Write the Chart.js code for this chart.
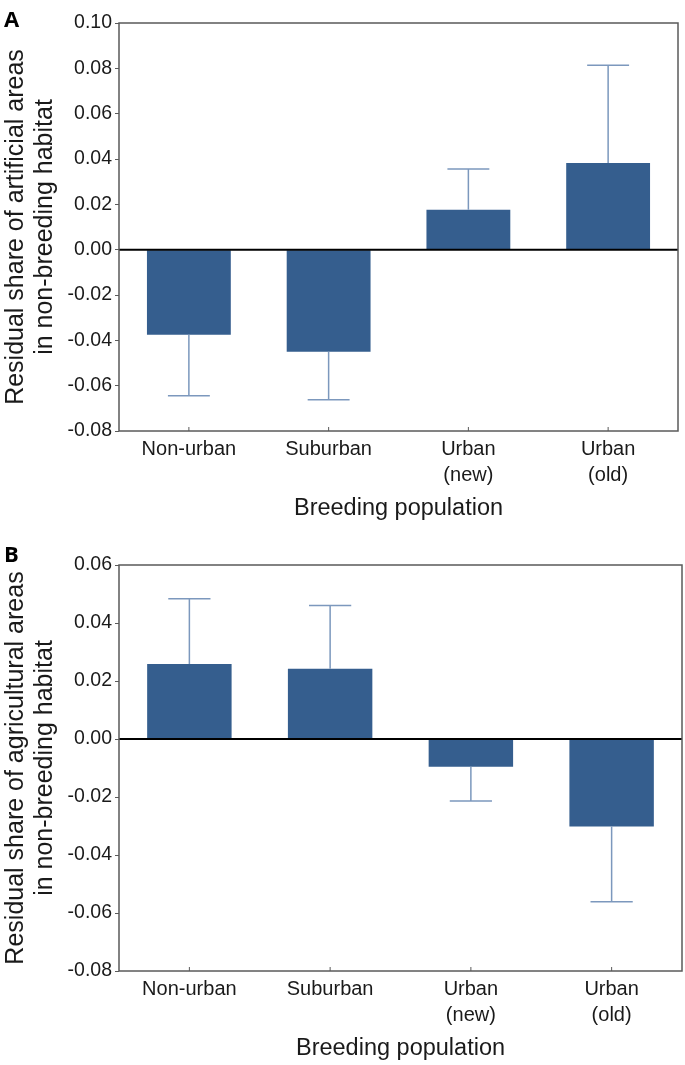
<!DOCTYPE html>
<html>
<head>
<meta charset="utf-8">
<script src="https://cdn.jsdelivr.net/npm/chart.js@4.4.1/dist/chart.umd.min.js"></script>
<style>
    html, body { margin: 0; padding: 0; background: #fff; }
    body { width: 685px; height: 1065px; position: relative; overflow: hidden; }
    .painel { position: absolute; left: 0; width: 685px; }
    .letra {
        position: absolute; left: 4px; line-height: 22px;
        font: bold 22px "Open Sans", "Liberation Sans", sans-serif; color: #000;
    }
</style>
</head>
<body>
<div class="painel" style="top:0"><canvas id="chartA" width="685" height="530"></canvas></div>
<div class="painel" style="top:530px"><canvas id="chartB" width="685" height="535"></canvas></div>
<div class="letra" style="top:3px">A</div>
<div class="letra" style="top:538px">B</div>

<script>
// Categories (multi-line labels as arrays)
const categorias = ['Non-urban', 'Suburban', ['Urban', '(new)'], ['Urban', '(old)']];

// Panel A: artificial areas
const valoresA = [-0.0375, -0.0450, 0.0176, 0.0382];
const errosA = [-0.0644, -0.0662, 0.0356, 0.0814];
const ticksA = [-0.08, -0.06, -0.04, -0.02, 0.00, 0.02, 0.04, 0.06, 0.08, 0.10];

// Panel B: agricultural areas
const valoresB = [0.0259, 0.0242, -0.0096, -0.0302];
const errosB = [0.0484, 0.0460, -0.0214, -0.0561];
const ticksB = [-0.08, -0.06, -0.04, -0.02, 0.00, 0.02, 0.04, 0.06];

const FONTE = '"Liberation Sans", Arial, Helvetica, sans-serif';
const COR_BARRA = '#355e8e';
const COR_ERRO = '#7c98bd';
const COR_EIXO = '#5a5a5a';

// Error bars, zero line, frame and inner x ticks
function criarPluginExtras(erros) {
    return {
        id: 'extras',
        afterDatasetsDraw(chart) {
            const { ctx, chartArea, scales } = chart;
            const meta = chart.getDatasetMeta(0);
            ctx.save();

            // Error bars (one-sided, away from zero)
            ctx.strokeStyle = COR_ERRO;
            ctx.lineWidth = 1.5;
            meta.data.forEach((barra, i) => {
                const yFim = scales.y.getPixelForValue(erros[i]);
                const meio = barra.width * 0.25;
                ctx.beginPath();
                ctx.moveTo(barra.x, barra.y);
                ctx.lineTo(barra.x, yFim);
                ctx.moveTo(barra.x - meio, yFim);
                ctx.lineTo(barra.x + meio, yFim);
                ctx.stroke();
            });

            // Zero line
            const y0 = scales.y.getPixelForValue(0);
            ctx.strokeStyle = '#000';
            ctx.lineWidth = 2;
            ctx.beginPath();
            ctx.moveTo(chartArea.left, y0);
            ctx.lineTo(chartArea.right, y0);
            ctx.stroke();

            // Frame
            ctx.strokeStyle = COR_EIXO;
            ctx.lineWidth = 1.5;
            ctx.strokeRect(chartArea.left, chartArea.top,
                chartArea.right - chartArea.left, chartArea.bottom - chartArea.top);

            // Inner ticks on x axis
            ctx.lineWidth = 1;
            scales.x.ticks.forEach((t, i) => {
                const x = scales.x.getPixelForTick(i);
                ctx.beginPath();
                ctx.moveTo(x, chartArea.bottom);
                ctx.lineTo(x, chartArea.bottom - 4);
                ctx.stroke();
            });

            ctx.restore();
        }
    };
}

// Build one panel
function criarPainel(id, valores, erros, ticks, tituloY, padding) {
    const ctx = document.getElementById(id);
    return new Chart(ctx, {
        type: 'bar',
        data: {
            labels: categorias,
            datasets: [{
                data: valores,
                backgroundColor: COR_BARRA,
                borderWidth: 0,
                categoryPercentage: 1,
                barPercentage: 0.6
            }]
        },
        options: {
            responsive: false,
            animation: false,
            layout: { padding: padding },
            plugins: {
                legend: { display: false },
                tooltip: { enabled: false }
            },
            scales: {
                x: {
                    offset: true,
                    afterFit: s => { s.height = 92; },
                    grid: { display: false, drawTicks: false },
                    border: { display: false },
                    ticks: {
                        padding: 5,
                        autoSkip: false,
                        maxRotation: 0,
                        color: '#1a1a1a',
                        font: { family: FONTE, size: 20, lineHeight: 1.3 }
                    },
                    title: {
                        display: true,
                        text: 'Breeding population',
                        color: '#1a1a1a',
                        font: { family: FONTE, size: 23.5, lineHeight: 1.2 },
                        padding: { top: 0, bottom: 0 }
                    }
                },
                y: {
                    min: ticks[0],
                    max: ticks[ticks.length - 1],
                    afterBuildTicks: s => { s.ticks = ticks.map(v => ({ value: v })); },
                    afterFit: s => { s.width = 119; },
                    grid: { drawOnChartArea: false, tickLength: 4, color: COR_EIXO, lineWidth: 1 },
                    border: { display: false },
                    ticks: {
                        padding: 3,
                        color: '#1a1a1a',
                        font: { family: FONTE, size: 19.5 },
                        callback: v => v.toFixed(2)
                    },
                    title: {
                        display: true,
                        text: tituloY,
                        color: '#1a1a1a',
                        font: { family: FONTE, size: 25, lineHeight: 1.16 },
                        padding: { top: 1.5, bottom: 0 }
                    }
                }
            }
        },
        plugins: [criarPluginExtras(erros)]
    });
}

criarPainel('chartA', valoresA, errosA, ticksA,
    ['Residual share of artificial areas', 'in non-breeding habitat'],
    { top: 23, right: 7, bottom: 7, left: 0 });

criarPainel('chartB', valoresB, errosB, ticksB,
    ['Residual share of agricultural areas', 'in non-breeding habitat'],
    { top: 35, right: 3, bottom: 2, left: 0 });
</script>
</body>
</html>
